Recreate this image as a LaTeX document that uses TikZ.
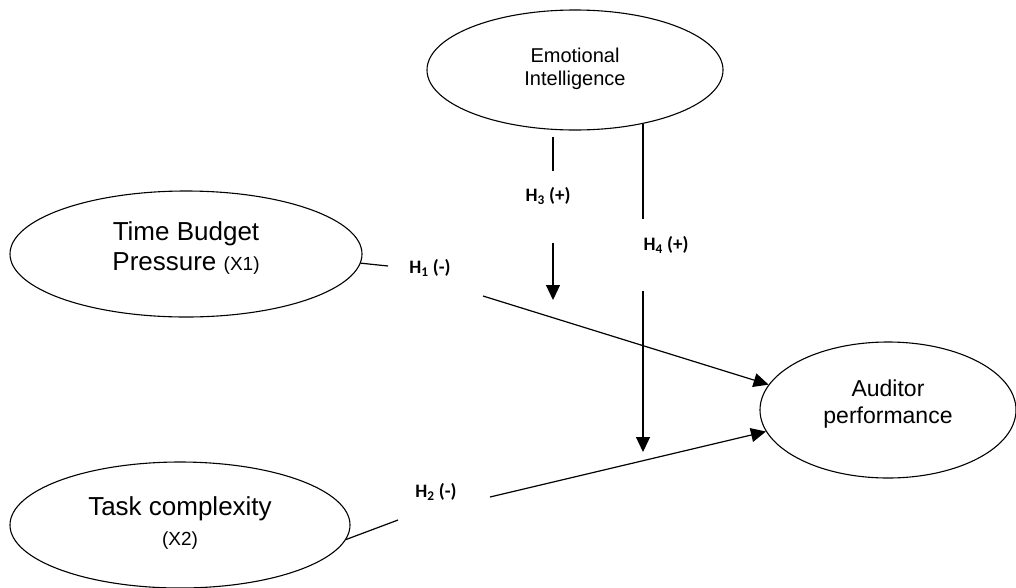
\documentclass[tikz,border=0pt]{standalone}
\usepackage{fontspec}
\setmainfont{Liberation Sans}
\newfontfamily\labfont{Carlito}
\usetikzlibrary{shapes.geometric,arrows.meta}
\begin{document}
\begin{tikzpicture}[x=1pt,y=-1pt,
  ell/.style={draw, ellipse, line width=1.1pt, inner sep=0pt, align=center},
  lbl/.style={font=\labfont\bfseries\fontsize{19}{22}\selectfont, inner sep=0pt},
  conn/.style={line width=1.2pt},
  arr/.style={conn, -{Triangle[length=15pt,width=14pt]}}]
\useasboundingbox (0,0) rectangle (1016,587);
% ellipses
\node[ell, minimum width=296pt, minimum height=120pt, font=\fontsize{20}{23}\selectfont, text depth=7pt] (ei) at (575,70)
  {Emotional\\Intelligence};
\node[ell, minimum width=352pt, minimum height=126pt, font=\fontsize{26}{30}\selectfont, text depth=15pt] (tbp) at (186,254)
  {Time Budget\\Pressure {\fontsize{19}{22}\selectfont (X1)}};
\node[ell, minimum width=340pt, minimum height=126pt, font=\fontsize{26}{30}\selectfont, text depth=8pt] (tc) at (180,525)
  {Task complexity\\{\fontsize{19}{22}\selectfont (X2)}};
\node[ell, minimum width=256pt, minimum height=136pt, font=\fontsize{23}{27}\selectfont, text depth=16pt] (ap) at (888,410)
  {Auditor\\performance};
% labels
\node[lbl] (h1) at (430,268) {H\textsubscript{1} (-)};
\node[lbl] (h2) at (436,492) {H\textsubscript{2} (-)};
\node[lbl] (h3) at (548,196) {H\textsubscript{3} (+)};
\node[lbl] (h4) at (666,245) {H\textsubscript{4} (+)};
% connector break points
\coordinate (h1a) at (388,266);
\coordinate (h1b) at (483,296);
\coordinate (h2a) at (398,520);
\coordinate (h2b) at (490,497);
\coordinate (h3a) at (553,137);
\coordinate (h3b) at (553,171);
\coordinate (h3c) at (553,243);
\coordinate (h3d) at (553,300);
\coordinate (h4a) at (643,124);
\coordinate (h4b) at (643,219);
\coordinate (h4c) at (643,291);
\coordinate (h4d) at (643,452);
% connectors
\draw[conn] (tbp.-3) -- (h1a);
\draw[arr] (h1b) -- (ap.168);
\draw[conn] (tc.-5) -- (h2a);
\draw[arr] (h2b) -- (ap.190);
\draw[conn] (h3a) -- (h3b);
\draw[arr] (h3c) -- (h3d);
\draw[conn] (h4a) -- (h4b);
\draw[arr] (h4c) -- (h4d);
\end{tikzpicture}
\end{document}
